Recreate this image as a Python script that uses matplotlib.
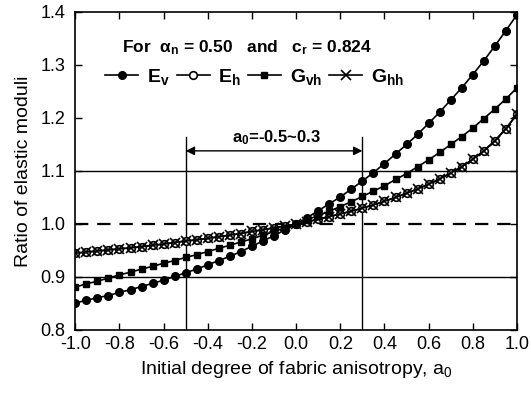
import matplotlib
matplotlib.use("Agg")
import matplotlib.pyplot as plt

plt.rcParams['font.family'] = ['Liberation Sans', 'DejaVu Sans']
plt.rcParams['mathtext.fontset'] = 'custom'
plt.rcParams['mathtext.rm'] = 'Liberation Sans'
plt.rcParams['mathtext.it'] = 'Liberation Sans'
plt.rcParams['mathtext.bf'] = 'Liberation Sans:bold'
plt.rcParams['axes.unicode_minus'] = False

# initial degree of fabric anisotropy (step 0.05)
a0 = [-1.00, -0.95, -0.90, -0.85, -0.80, -0.75, -0.70, -0.65, -0.60, -0.55,
      -0.50, -0.45, -0.40, -0.35, -0.30, -0.25, -0.20, -0.15, -0.10, -0.05,
      0.00, 0.05, 0.10, 0.15, 0.20, 0.25, 0.30, 0.35, 0.40, 0.45,
      0.50, 0.55, 0.60, 0.65, 0.70, 0.75, 0.80, 0.85, 0.90, 0.95, 1.00]

E_v = [0.851, 0.856, 0.861, 0.865, 0.871, 0.876, 0.882, 0.888, 0.894, 0.901,
       0.908, 0.915, 0.923, 0.931, 0.939, 0.948, 0.958, 0.968, 0.978, 0.989,
       1.000, 1.012, 1.025, 1.038, 1.051, 1.066, 1.081, 1.097, 1.114, 1.132,
       1.150, 1.169, 1.190, 1.211, 1.234, 1.257, 1.282, 1.308, 1.336, 1.365, 1.395]

E_h = [0.945, 0.947, 0.949, 0.951, 0.953, 0.955, 0.957, 0.960, 0.962, 0.965,
       0.968, 0.970, 0.973, 0.976, 0.979, 0.982, 0.986, 0.989, 0.993, 0.996,
       1.000, 1.004, 1.009, 1.014, 1.019, 1.024, 1.030, 1.036, 1.043, 1.050,
       1.058, 1.066, 1.075, 1.085, 1.096, 1.108, 1.122, 1.138, 1.157, 1.180, 1.207]

G_vh = [0.881, 0.887, 0.892, 0.898, 0.904, 0.909, 0.915, 0.920, 0.926, 0.931,
        0.937, 0.942, 0.948, 0.954, 0.960, 0.966, 0.972, 0.979, 0.986, 0.993,
        1.000, 1.008, 1.016, 1.024, 1.033, 1.042, 1.052, 1.062, 1.072, 1.084,
        1.095, 1.108, 1.121, 1.135, 1.150, 1.165, 1.181, 1.199, 1.217, 1.236, 1.257]

G_hh = [0.945, 0.947, 0.949, 0.951, 0.953, 0.955, 0.957, 0.960, 0.962, 0.965,
        0.968, 0.970, 0.973, 0.976, 0.979, 0.982, 0.986, 0.989, 0.993, 0.996,
        1.000, 1.004, 1.009, 1.014, 1.019, 1.024, 1.030, 1.036, 1.043, 1.050,
        1.058, 1.066, 1.075, 1.085, 1.096, 1.108, 1.122, 1.138, 1.157, 1.180, 1.207]

range_lo, range_hi = -0.5, 0.3
xticks = [-1.0, -0.8, -0.6, -0.4, -0.2, 0.0, 0.2, 0.4, 0.6, 0.8, 1.0]
yticks = [0.8, 0.9, 1.0, 1.1, 1.2, 1.3, 1.4]

fig = plt.figure(figsize=(5.31, 3.96), dpi=100)
ax = fig.add_axes([0.1418, 0.1667, 0.8318, 0.803])

# reference lines
ax.axhline(1.0, color='black', lw=1.6, ls=(0, (6, 4)), zorder=1)
ax.axhline(0.9, color='black', lw=1.0, zorder=1)
ax.axhline(1.1, color='black', lw=1.0, zorder=1)
ax.plot([range_lo, range_lo], [0.8, 1.165], color='black', lw=1.0, zorder=1)
ax.plot([range_hi, range_hi], [0.8, 1.165], color='black', lw=1.0, zorder=1)
ax.annotate('', xy=(range_lo, 1.138), xytext=(range_hi, 1.138),
            arrowprops=dict(arrowstyle='<|-|>', color='black', lw=1.0,
                            mutation_scale=13, shrinkA=0, shrinkB=0))
ax.text(-0.09, 1.146, r'$\mathbf{a}_\mathbf{0}$' + '=-0.5~0.3', ha='center', va='bottom',
        fontsize=12, fontweight='bold')

# curves
ax.plot(a0, E_v, color='black', lw=1.2, marker='o', ms=5.5, mfc='black',
        label=r'$\mathbf{E}_\mathbf{v}$')
ax.plot(a0, E_h, color='black', lw=1.2, marker='o', ms=5.5, mfc='white', mew=1.2,
        label=r'$\mathbf{E}_\mathbf{h}$')
ax.plot(a0, G_vh, color='black', lw=1.2, marker='s', ms=4.5, mfc='black',
        label=r'$\mathbf{G}_\mathbf{vh}$')
ax.plot(a0, G_hh, color='black', lw=1.2, marker='x', ms=6.5, mew=1.2,
        label=r'$\mathbf{G}_\mathbf{hh}$')

ax.text(-0.79, 1.332, r'For  $\mathbf{\alpha}_\mathbf{n}$ = 0.50   and   $\mathbf{c}_\mathbf{r}$ = 0.824',
        fontsize=12.5, fontweight='bold', va='center')
ax.legend(loc='center left', bbox_to_anchor=(0.068, 0.795), ncol=4, frameon=False,
          handlelength=1.7, handletextpad=0.45, columnspacing=0.35,
          borderaxespad=0, borderpad=0,
          prop={'size': 14, 'weight': 'bold'})

ax.set_xlim(-1.0, 1.0)
ax.set_ylim(0.8, 1.4)
ax.set_xticks(xticks)
ax.set_yticks(yticks)
ax.set_xticklabels([f'{v:.1f}' for v in xticks])
ax.set_yticklabels([f'{v:.1f}' for v in yticks])
ax.tick_params(direction='in', length=5, width=1, top=True, right=True,
               labelsize=13)
ax.tick_params(axis='x', pad=4)
ax.tick_params(axis='y', pad=7)
for s in ax.spines.values():
    s.set_linewidth(1.2)

ax.set_xlabel(r'Initial degree of fabric anisotropy, $\mathregular{a_0}$', fontsize=14,
              labelpad=5)
ax.set_ylabel('Ratio of elastic moduli', fontsize=14, labelpad=6)

fig.savefig('out.png', dpi=100)
